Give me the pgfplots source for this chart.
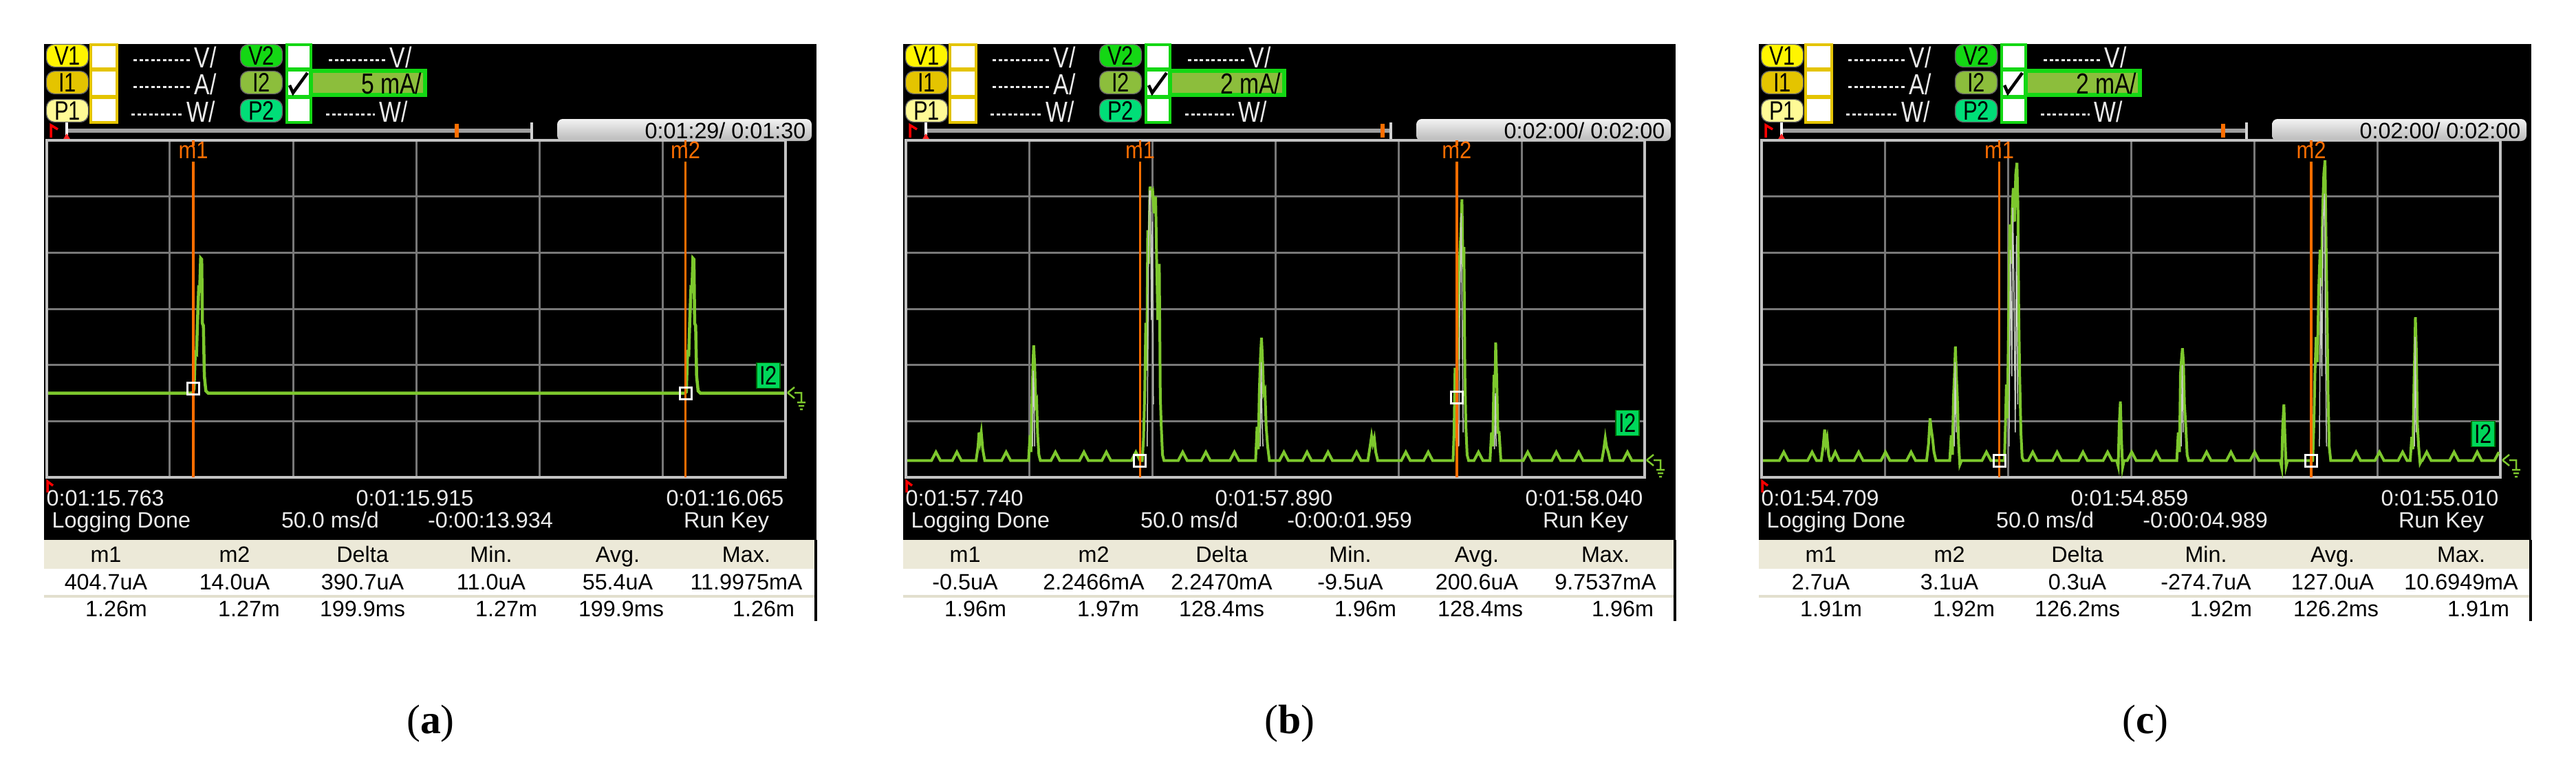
\documentclass[border=0pt]{standalone}
\usepackage{pgfplots}
\pgfplotsset{compat=1.18}
\usepackage{fontspec}
\setmainfont{Liberation Serif}
\newfontfamily\scr{Liberation Sans}
\newfontfamily\scrn[FakeStretch=0.8]{Liberation Sans}
\newfontfamily\scrm[FakeStretch=0.88]{Liberation Sans}
\definecolor{trace}{RGB}{125,200,45}
\definecolor{mk}{RGB}{255,110,0}
\definecolor{gridc}{RGB}{120,120,120}
\definecolor{framec}{RGB}{195,195,195}
\definecolor{beige}{RGB}{236,233,216}
\definecolor{sepc}{RGB}{226,223,206}
\definecolor{ylw}{RGB}{255,245,0}
\definecolor{gold}{RGB}{228,196,0}
\definecolor{pale}{RGB}{255,250,150}
\definecolor{grn}{RGB}{20,215,20}
\definecolor{olive}{RGB}{140,190,60}
\definecolor{mint}{RGB}{0,222,120}
\definecolor{itwo}{RGB}{0,215,90}
\definecolor{txt}{RGB}{235,235,235}
\definecolor{hl}{RGB}{200,205,195}
\newcommand\lab{\scr\fontsize{9.2}{10}\selectfont}
\newcommand\mlab{\scrm\fontsize{10}{10}\selectfont}
\newcommand\hd{\scrn\fontsize{12}{12}\selectfont}
\newcommand\bd{\scrn\fontsize{11}{11}\selectfont}
\newcommand\badge[3]{\node[fill=#2, draw=black!60, rounded corners=1.2mm, minimum width=6.1mm, minimum height=3.3mm, inner sep=0pt, font=\bd] at (#1) {#3};}
\newcommand\screen[8]{%
\begin{scope}[x=0.1mm,y=-0.1mm,xshift=#1]
 \fill[black] (0,64) rectangle (1123,785);
 \badge{34,81}{ylw}{V1}\badge{34,120}{gold}{I1}\badge{34,161}{pale}{P1}
 \badge{316,81}{grn}{V2}\badge{316,120}{olive}{I2}\badge{316,161}{mint}{P2}
 \fill[white] (68,65) rectangle (106,178);
 \draw[gold,line width=0.35mm] (68,65) rectangle (106,178);
 \draw[gold,line width=0.6mm] (68,101)--(106,101) (68,141)--(106,141);
 \fill[white] (353,65) rectangle (388,178);
 \draw[grn,line width=0.35mm] (353,65) rectangle (388,178);
 \draw[grn,line width=0.6mm] (353,101)--(388,101) (353,141)--(388,141);
 \draw[black,line width=0.45mm] (357,124)--(362,135)--(383,106);
 \fill[olive] (388,103) rectangle (554,138);
 \draw[grn,line width=0.6mm] (388,103) rectangle (554,138);
 \node[anchor=east,text=black,font=\hd,inner sep=0pt] at (550,121) {#2};
 \foreach \y/\u/\a/\b in {83/V/130/212,122/A/130/212,162/W/127/201,83/V/414/496,162/W/410/481}{
  \draw[txt,line width=0.3mm,dash pattern=on 0.5mm off 0.35mm] (\a,\y+4)--(\b,\y+4);
  \node[anchor=west,txt,font=\hd,inner sep=0pt] at (\b+6,\y) {\u/};}
 % timeline
 \draw[gray!75,line width=0.55mm] (33,190)--(709,190);
 \draw[white,line width=0.35mm] (33,178)--(33,203);
 \draw[gray!35,line width=0.35mm] (709,178)--(709,203);
 \fill[red!85] (27,204)--(33,194)--(39,204)--cycle;
 \draw[red,line width=0.35mm] (10,200)--(10,182)--(20,188);
 \fill[mk] (#3-3,180) rectangle (#3+3,200);
 \shade[top color=gray!10,bottom color=gray!55,rounded corners=0.8mm] (746,173) rectangle (1116,205);
 \node[anchor=east,font=\lab,inner sep=0pt] at (1108,190) {#4};
 % bottom texts
 \draw[white,line width=0.3mm] (541,694)--(541,686);
 \draw[red,line width=0.35mm] (5,716)--(5,700)--(13,706);
 \node[anchor=base west,txt,font=\lab,inner sep=0pt] at (3,735) {#5};
 \node[anchor=base,txt,font=\lab,inner sep=0pt] at (539,735) {#6};
 \node[anchor=base east,txt,font=\lab,inner sep=0pt] at (1076,735) {#7};
 \node[anchor=base west,txt,font=\lab,inner sep=0pt] at (11,767) {Logging Done};
 \node[anchor=base,txt,font=\lab,inner sep=0pt] at (416,767) {50.0 ms/d};
 \node[anchor=base,txt,font=\lab,inner sep=0pt] at (649,767) {#8};
 \node[anchor=base,txt,font=\lab,inner sep=0pt] at (992,767) {Run Key};
 % table
 \fill[beige] (0,785) rectangle (1121,827);
 \fill[white] (0,827) rectangle (1121,903);
 \fill[sepc] (0,865) rectangle (1121,869);
 \draw[black,line width=0.35mm] (1122,785)--(1122,903);
 \foreach \x/\t in {90/m1,277/m2,463/Delta,650/Min.,834/Avg.,1021/Max.}
  \node[anchor=base,font=\lab,inner sep=0pt] at (\x,817) {\t};
\end{scope}}
\newcommand\rows[7]{%
\begin{scope}[x=0.1mm,y=-0.1mm,xshift=#1]
 \foreach \x/\t in {90/#2,277/#3,463/#4,650/#5,834/#6,1021/#7}
  \node[anchor=base,font=\lab,inner sep=0pt] at (\x,857) {\t};
\end{scope}}
\newcommand\rowsb[8]{%
\begin{scope}[x=0.1mm,y=-0.1mm,xshift=#1]
 \foreach \x/\t in {105/#2,298/#3,463/#4,672/#5,839/#6,1046/#7}
  \node[anchor=base,font=\lab,inner sep=0pt] at (\x,896) {\t};
 \node[font=\fontsize{17}{17}\selectfont] at (562,1052) {(\textbf{#8})};
\end{scope}}
\newcommand\gndsym[2]{%
\begin{scope}[x=0.1mm,y=-0.1mm,xshift=#1]
 \draw[trace,line width=0.25mm] (1081,#2)--(1091,#2-8) (1081,#2)--(1091,#2+8) (1091,#2)--(1101,#2)--(1101,#2+14)
  (1095,#2+14)--(1107,#2+14) (1097,#2+19)--(1105,#2+19) (1099,#2+24)--(1103,#2+24);
\end{scope}}
\pgfplotsset{oscope/.style={scale only axis, width=107.4mm, height=49mm,
 xmin=0, xmax=300, xtick={50,100,...,250}, xticklabels={}, yticklabels={},
 grid=major, major grid style={draw=gridc, line width=0.3mm},
 major tick length=0pt, tick style={draw=none},
 axis line style={draw=framec, line width=0.45mm},
 axis background/.style={fill=black}, clip mode=individual, anchor=north west}}
\begin{document}
\begin{tikzpicture}
\useasboundingbox (0,0) rectangle (374.5mm,-113.6mm);
\fill[white] (0,0) rectangle (374.5mm,-113.6mm);
\screen{6.4mm}{5 mA/}{600}{0:01:29/ 0:01:30}{0:01:15.763}{0:01:15.915}{0:01:16.065}{-0:00:13.934}
\rows{6.4mm}{404.7uA}{14.0uA}{390.7uA}{11.0uA}{55.4uA}{11.9975mA}
\rowsb{6.4mm}{1.26m}{1.27m}{199.9ms}{1.27m}{199.9ms}{1.26m}{a}
\gndsym{6.4mm}{571}
\screen{131.3mm}{2 mA/}{697}{0:02:00/ 0:02:00}{0:01:57.740}{0:01:57.890}{0:01:58.040}{-0:00:01.959}
\rows{131.3mm}{-0.5uA}{2.2466mA}{2.2470mA}{-9.5uA}{200.6uA}{9.7537mA}
\rowsb{131.3mm}{1.96m}{1.97m}{128.4ms}{1.96m}{128.4ms}{1.96m}{b}
\gndsym{131.3mm}{669}
\screen{255.7mm}{2 mA/}{675}{0:02:00/ 0:02:00}{0:01:54.709}{0:01:54.859}{0:01:55.010}{-0:00:04.989}
\rows{255.7mm}{2.7uA}{3.1uA}{0.3uA}{-274.7uA}{127.0uA}{10.6949mA}
\rowsb{255.7mm}{1.91m}{1.92m}{126.2ms}{1.92m}{126.2ms}{1.91m}{c}
\gndsym{255.7mm}{669}
% ---------- (a)
\begin{axis}[oscope, at={(6.8mm,-20.4mm)}, ymin=-7.5, ymax=22.5, ytick={-2.5,2.5,7.5,12.5,17.5}]
\addplot[trace,line width=0.45mm] coordinates {(0.6,0) (59.3,0) (59.8,0.4) (60.3,3.6) (60.8,3.5) (61.2,6.3) (61.7,9.3) (62.1,9.2) (62.5,12.0) (62.9,11.9) (63.2,6.2) (63.6,6.0) (64.0,1.5) (64.6,0.2) (65.5,0)
(259.2,0) (259.7,0.1) (260.2,3.6) (260.7,3.5) (261.1,6.3) (261.6,9.3) (262.0,9.2) (262.4,12.0) (262.8,11.9) (263.1,6.2) (263.5,6.0) (263.9,1.5) (264.5,0.2) (265.4,0) (299.5,0)};
\addplot[mk,line width=0.35mm] coordinates {(59.5,-7.5) (59.5,20.6)};
\addplot[mk,line width=0.35mm] coordinates {(259.4,-7.5) (259.4,20.6)};
\addplot[mk,line width=0.35mm] coordinates {(59.5,22.5) (59.5,22.0)};
\addplot[mk,line width=0.35mm] coordinates {(259.4,22.5) (259.4,22.0)};
\addplot[only marks,mark=square,mark size=0.85mm,white,line width=0.3mm] coordinates {(59.5,0.4) (259.4,0)};
\node[mk,font=\mlab,inner sep=0pt] at (axis cs:59.5,21.6) {m1};
\node[mk,font=\mlab,inner sep=0pt] at (axis cs:259.4,21.6) {m2};
\node[fill=itwo,draw=green!40!black,font=\bd,inner sep=0pt,minimum width=3.4mm,minimum height=3.7mm,anchor=south east] at (axis cs:298,0.4) {I2};
\end{axis}
% ---------- (b)
\begin{axis}[oscope, at={(131.7mm,-20.4mm)}, ymin=-0.6, ymax=11.4, ytick={1.4,3.4,5.4,7.4,9.4}]
\addplot[trace,line width=0.4mm] coordinates {(0.6,0)
(10.4,0)(12.2,0.3)(14.0,0)
(18.9,0)(20.7,0.3)(22.5,0)
(28.5,0)(29.3,0.5)(29.7,1.0)(30.1,0.7)(30.6,1.0)(31.2,0.4)(32.0,0)
(38.9,0)(40.7,0.3)(42.5,0)
(49.8,0)(50.4,0.9)(50.8,0.3)(51.2,2.1)(51.6,3.5)(51.9,4.1)(52.3,3.4)(52.7,2.0)(53.1,2.1)(53.5,0.9)(54.0,0.2)(54.6,0)
(58.9,0)(60.7,0.3)(62.5,0)
(70.5,0)(72.3,0.3)(74.1,0)
(79.6,0)(81.4,0.3)(83.2,0)
(91.6,0)(93.4,0.3)(95.1,0)
(96.0,0)(96.5,0.8)(97.0,2.5)(97.4,4.9)(97.8,3.2)(98.2,8.2)(98.6,7.0)(99.1,9.75)(99.6,9.5)(100.2,9.6)(100.8,8.8)(101.4,9.4)(101.8,7.2)(102.3,5.0)(102.9,7.0)(103.3,2.3)(103.7,1.2)(104.2,0.2)(104.8,0)
(110.6,0)(112.4,0.3)(114.2,0)
(120.0,0)(121.8,0.3)(123.6,0)
(131.6,0)(133.4,0.3)(135.2,0)
(142.0,0)(142.6,1.2)(143.1,0.4)(143.5,2.4)(144.0,3.7)(144.4,4.37)(144.8,3.6)(145.3,2.4)(145.8,2.5)(146.3,1.2)(146.9,0.5)(147.6,0)
(151.7,0)(153.5,0.3)(155.3,0)
(161.1,0)(162.9,0.3)(164.7,0)
(169.6,0)(171.4,0.3)(173.2,0)
(181.2,0)(183.0,0.3)(184.8,0)
(187.6,0)(188.5,0.5)(189.1,0.87)(189.6,0.6)(190.2,0.8)(190.8,0.3)(191.6,0)
(201.2,0)(203.0,0.3)(204.8,0)
(210.3,0)(212.1,0.3)(213.9,0)
(222.2,0)(222.6,1.0)(223.0,3.3)(223.3,0.8)(223.7,2.25)(224.2,5.0)(224.7,6.9)(225.3,8.0)(225.8,9.3)(226.2,6.9)(226.6,7.6)(227.0,3.0)(227.4,1.2)(227.9,0.2)(228.5,0)
(230.7,0)(232.5,0.3)(234.3,0)
(237.2,0)(237.8,1.0)(238.3,0.5)(238.8,3.05)(239.2,2.6)(239.5,4.2)(239.9,3.0)(240.4,1.0)(240.9,1.0)(241.6,0)
(250.7,0)(252.5,0.3)(254.3,0)
(262.3,0)(264.1,0.3)(265.9,0)
(271.4,0)(273.2,0.3)(275.0,0)
(282.6,0)(283.4,0.4)(284.0,0.8)(284.5,0.5)(285.2,0.3)(286.0,0)
(291.2,0)(293.0,0.3)(294.8,0)
(299.5,0)};
\addplot[hl,line width=0.15mm] coordinates {(98.0,0.5)(98.5,7.5)(98.9,9.6)(99.3,9.6)(99.7,5)(100.1,8.5)(100.5,2)};
\addplot[hl,line width=0.15mm] coordinates {(224.5,0.5)(225.0,6)(225.5,8.8)(225.9,5)(226.3,1)};
\addplot[hl,line width=0.15mm] coordinates {(51.4,0.5)(51.7,3.2)(52.0,2.5)(52.3,0.5)};
\addplot[hl,line width=0.15mm] coordinates {(143.9,0.5)(144.3,3.5)(144.6,1.5)(145.0,0.5)};
\addplot[hl,line width=0.15mm] coordinates {(239.0,0.4)(239.4,2.4)(239.7,0.5)};
\addplot[mk,line width=0.35mm] coordinates {(95.1,-0.6) (95.1,10.64)};
\addplot[mk,line width=0.35mm] coordinates {(223.7,-0.6) (223.7,10.64)};
\addplot[mk,line width=0.35mm] coordinates {(95.1,11.4) (95.1,11.2)};
\addplot[mk,line width=0.35mm] coordinates {(223.7,11.4) (223.7,11.2)};
\addplot[only marks,mark=square,mark size=0.85mm,white,line width=0.3mm] coordinates {(95.1,0) (223.7,2.25)};
\node[mk,font=\mlab,inner sep=0pt] at (axis cs:95.1,11.04) {m1};
\node[mk,font=\mlab,inner sep=0pt] at (axis cs:223.7,11.04) {m2};
\node[fill=itwo,draw=green!40!black,font=\bd,inner sep=0pt,minimum width=3.4mm,minimum height=3.7mm,anchor=south east] at (axis cs:298,0.86) {I2};
\end{axis}
% ---------- (c)
\begin{axis}[oscope, at={(256.1mm,-20.4mm)}, ymin=-0.6, ymax=11.4, ytick={1.4,3.4,5.4,7.4,9.4}]
\addplot[trace,line width=0.4mm] coordinates {(0.6,0)
(7.2,0)(9.0,0.3)(10.8,0)
(18.7,0)(20.5,0.3)(22.3,0)
(24.2,0)(25.0,0.5)(25.6,1.1)(26.1,0.6)(26.6,0.8)(27.2,0.2)(27.8,0)
(28.3,0)(29.9,0.3)(31.5,0)
(37.6,0)(39.4,0.3)(41.2,0)
(48.5,0)(50.3,0.3)(52.1,0)
(58.9,0)(60.7,0.3)(62.5,0)
(67.0,0)(67.8,0.6)(68.4,1.5)(68.9,1.1)(69.4,0.8)(70.0,0.3)(70.8,0)
(76.4,0)(77.0,0.9)(77.5,0.2)(77.9,2.2)(78.3,3.0)(78.7,4.06)(79.1,3.0)(79.5,2.2)(80.0,0.6)(80.5,-0.15)(81.2,0)
(89.5,0)(91.3,0.3)(93.1,0)
(98.6,0)(99.0,1.2)(99.4,2.7)(99.8,1.5)(100.3,5.0)(100.8,8.4)(101.3,7.0)(101.8,9.0)(102.2,9.7)(102.7,8.5)(103.2,10.2)(103.7,10.6)(104.1,9.0)(104.4,5.4)(104.8,3.0)(105.3,1.0)(105.8,0.1)(106.4,0)
(108.3,0)(110.1,0.3)(111.9,0)
(118.2,0)(120.0,0.3)(121.8,0)
(128.7,0)(130.5,0.3)(132.3,0)
(138.7,0)(140.5,0.3)(142.3,0)
(144.2,0)(144.8,-0.2)(145.2,1.2)(145.7,2.1)(146.1,0.8)(146.6,-0.25)(147.2,0)
(148.5,0)(150.3,0.3)(152.1,0)
(158.4,0)(160.2,0.3)(162.0,0)
(168.6,0)(169.2,1.0)(169.7,0.3)(170.1,3.07)(170.5,3.6)(170.9,4.0)(171.3,3.5)(171.7,2.0)(172.2,1.3)(172.8,0.2)(173.4,0)
(178.9,0)(180.7,0.3)(182.5,0)
(188.8,0)(190.6,0.3)(192.4,0)
(198.4,0)(200.2,0.3)(202.0,0)
(210.6,0)(211.2,-0.25)(211.6,1.2)(212.1,2.0)(212.5,0.9)(213.0,-0.2)(213.6,0)
(223.8,0)(224.3,1.4)(224.7,3.1)(225.2,4.4)(225.7,3.5)(226.2,6.0)(226.8,7.5)(227.3,6.2)(227.8,8.8)(228.3,10.2)(228.8,10.69)(229.2,7.8)(229.6,5.6)(230.0,2.4)(230.5,0.5)(231.1,0)
(239.6,0)(241.4,0.3)(243.2,0)
(249.1,0)(250.9,0.3)(252.7,0)
(258.5,0)(260.3,0.3)(262.1,0)
(263.4,0)(264.0,0.84)(264.5,0.4)(264.9,2.6)(265.2,3.8)(265.5,5.1)(265.9,3.8)(266.3,1.3)(266.8,0.5)(267.4,-0.1)(268.0,0)
(268.3,0)(270.1,0.3)(271.9,0)
(279.4,0)(281.2,0.3)(283.0,0)
(288.8,0)(290.6,0.3)(292.4,0)
(297.6,0)(299.4,0.3)};
\addplot[hl,line width=0.15mm] coordinates {(100.5,0.5)(101.0,7.5)(101.6,3)(102.0,9)(102.5,6)(103.0,1)(103.5,8)(104.0,2)};
\addplot[hl,line width=0.15mm] coordinates {(226.5,0.5)(227.0,6.5)(227.5,3)(228.0,8.5)(228.6,9.5)(229.0,4)(229.4,0.5)};
\addplot[hl,line width=0.15mm] coordinates {(78.2,0.5)(78.6,3.5)(79.0,1)};
\addplot[hl,line width=0.15mm] coordinates {(170.4,0.5)(170.8,3.4)(171.2,1)};
\addplot[hl,line width=0.15mm] coordinates {(265.1,0.5)(265.4,4.4)(265.8,1)};
\addplot[mk,line width=0.35mm] coordinates {(96.5,-0.6) (96.5,10.64)};
\addplot[mk,line width=0.35mm] coordinates {(223.2,-0.6) (223.2,10.64)};
\addplot[mk,line width=0.35mm] coordinates {(96.5,11.4) (96.5,11.2)};
\addplot[mk,line width=0.35mm] coordinates {(223.2,11.4) (223.2,11.2)};
\addplot[only marks,mark=square,mark size=0.85mm,white,line width=0.3mm] coordinates {(96.5,0) (223.2,0)};
\node[mk,font=\mlab,inner sep=0pt] at (axis cs:96.5,11.04) {m1};
\node[mk,font=\mlab,inner sep=0pt] at (axis cs:223.2,11.04) {m2};
\node[fill=itwo,draw=green!40!black,font=\bd,inner sep=0pt,minimum width=3.4mm,minimum height=3.7mm,anchor=south east] at (axis cs:298,0.47) {I2};
\end{axis}
\end{tikzpicture}
\end{document}
